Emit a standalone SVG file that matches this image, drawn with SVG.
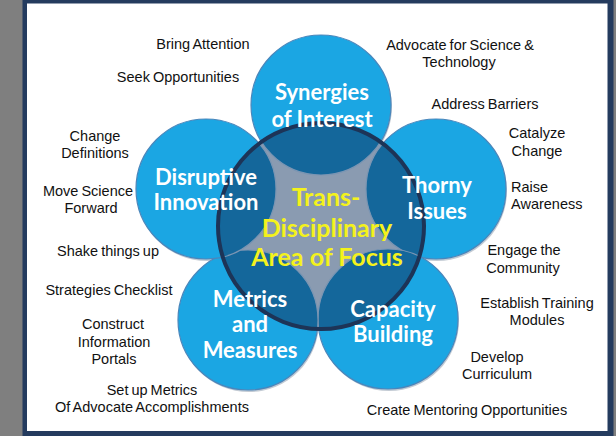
<svg xmlns="http://www.w3.org/2000/svg" width="616" height="436" viewBox="0 0 616 436">
<style>
.outer{fill:#1ba6e3;stroke:#4a86bb;stroke-width:1.2}
.shadow{fill:#c3cbd4}
.inner{fill:#14679b;stroke:#7a95b3;stroke-width:1.2}
.ct{font-family:Lato,"Open Sans","Liberation Sans",sans-serif;font-weight:700;font-size:22px;fill:#ffffff;text-anchor:middle}
.yt{font-family:Lato,"Open Sans","Liberation Sans",sans-serif;font-weight:700;font-size:25px;fill:#f4f21c;text-anchor:middle}
.lb{font-family:"Liberation Sans",Arial,sans-serif;font-size:14.5px;fill:#111111;text-anchor:middle;word-spacing:-1px}
.lbl{font-family:"Liberation Sans",Arial,sans-serif;font-size:14.5px;fill:#111111;text-anchor:start;word-spacing:-1px}
</style>
<defs>
<clipPath id="cc"><circle cx="321" cy="226" r="103"/></clipPath>
</defs>
<rect x="0" y="0" width="616" height="436" fill="#7f7f7f"/>
<rect x="22.5" y="0" width="591" height="436" fill="#243b5e"/>
<rect x="27" y="3.5" width="580.5" height="427.5" fill="#ffffff"/>

<g id="shadows">
<circle class="shadow" cx="322" cy="107" r="70"/>
<circle class="shadow" cx="437" cy="191" r="70"/>
<circle class="shadow" cx="389" cy="321" r="70"/>
<circle class="shadow" cx="249" cy="322" r="70"/>
<circle class="shadow" cx="207" cy="191" r="70"/>
</g>

<g id="outer-circles">
<circle class="outer" cx="321" cy="105" r="70"/>
<circle class="outer" cx="436" cy="189" r="70"/>
<circle class="outer" cx="388" cy="319" r="70"/>
<circle class="outer" cx="248" cy="320" r="70"/>
<circle class="outer" cx="206" cy="189" r="70"/>
</g>

<g id="center-area">
<circle cx="321" cy="226" r="103" fill="#8a9bb1"/>
<g clip-path="url(#cc)">
<circle class="inner" cx="321" cy="105" r="70"/>
<circle class="inner" cx="436" cy="189" r="70"/>
<circle class="inner" cx="388" cy="319" r="70"/>
<circle class="inner" cx="248" cy="320" r="70"/>
<circle class="inner" cx="206" cy="189" r="70"/>
</g>
<circle cx="321" cy="226" r="103" fill="none" stroke="#1d3457" stroke-width="4"/>
</g>

<g id="node-synergies">
<text class="ct" x="322" y="100">Synergies</text>
<text class="ct" x="322" y="127">of Interest</text>
</g>
<g id="node-thorny">
<text class="ct" x="437" y="193">Thorny</text>
<text class="ct" x="437" y="219">Issues</text>
</g>
<g id="node-capacity">
<text class="ct" x="393" y="317">Capacity</text>
<text class="ct" x="393" y="342">Building</text>
</g>
<g id="node-metrics">
<text class="ct" x="250" y="307">Metrics</text>
<text class="ct" x="250" y="332">and</text>
<text class="ct" x="250" y="358">Measures</text>
</g>
<g id="node-disruptive">
<text class="ct" x="206" y="185">Disruptive</text>
<text class="ct" x="206" y="210">Innovation</text>
</g>
<g id="node-center">
<text class="yt" x="326" y="206">Trans-</text>
<text class="yt" x="327" y="237">Disciplinary</text>
<text class="yt" x="327" y="266">Area of Focus</text>
</g>

<g id="connectors"></g>

<g id="labels">
<text class="lb" x="203" y="49">Bring Attention</text>
<text class="lb" x="178" y="82">Seek Opportunities</text>
<text class="lb" x="460" y="50">Advocate for Science &amp;</text>
<text class="lb" x="459" y="67">Technology</text>
<text class="lb" x="485" y="109">Address Barriers</text>
<text class="lb" x="537" y="138">Catalyze</text>
<text class="lb" x="537" y="156">Change</text>
<text class="lbl" x="511" y="192">Raise</text>
<text class="lbl" x="511" y="209">Awareness</text>
<text class="lb" x="524" y="255">Engage the</text>
<text class="lb" x="523" y="273">Community</text>
<text class="lb" x="537" y="308">Establish Training</text>
<text class="lb" x="537" y="325">Modules</text>
<text class="lb" x="497" y="362">Develop</text>
<text class="lb" x="497" y="379">Curriculum</text>
<text class="lb" x="467" y="415">Create Mentoring Opportunities</text>
<text class="lb" x="152" y="395">Set up Metrics</text>
<text class="lb" x="152" y="412">Of Advocate Accomplishments</text>
<text class="lb" x="113" y="329">Construct</text>
<text class="lb" x="114" y="347">Information</text>
<text class="lb" x="114" y="364">Portals</text>
<text class="lb" x="109" y="295">Strategies Checklist</text>
<text class="lb" x="108" y="256">Shake things up</text>
<text class="lb" x="88" y="196">Move Science</text>
<text class="lb" x="91" y="213">Forward</text>
<text class="lb" x="95" y="141">Change</text>
<text class="lb" x="95" y="158">Definitions</text>
</g>
</svg>
